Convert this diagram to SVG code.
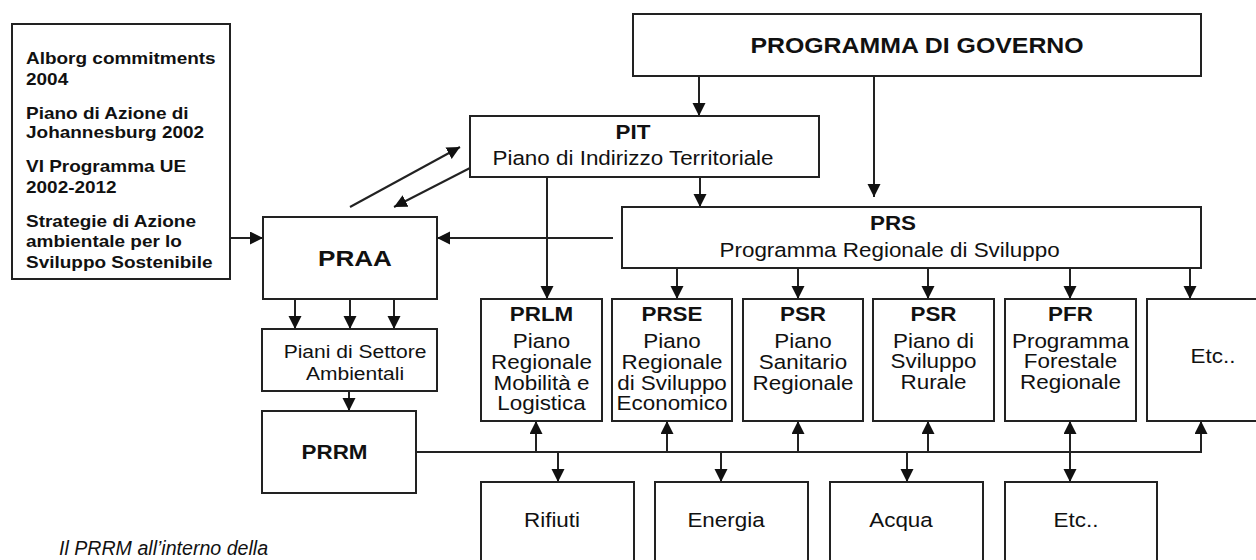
<svg xmlns="http://www.w3.org/2000/svg" width="1256" height="560" viewBox="0 0 1256 560">
<style>
rect.box{fill:#fff;stroke:#222;stroke-width:2}
text{font-family:"Liberation Sans",Arial,sans-serif;fill:#111}
.b{font-weight:bold}
.c{text-anchor:middle}
.ln{fill:none;stroke:#222;stroke-width:2}
</style>
<defs>
<marker id="ah" markerUnits="userSpaceOnUse" markerWidth="14" markerHeight="14" refX="13" refY="6.5" orient="auto">
<path d="M0,0 L13,6.5 L0,13 z" fill="#111"/>
</marker>
</defs>
<rect width="1256" height="560" fill="#fff"/>

<g id="connectors">
<line class="ln" x1="699" y1="76" x2="699" y2="116" marker-end="url(#ah)"/>
<line class="ln" x1="874" y1="76" x2="874" y2="197" marker-end="url(#ah)"/>
<line class="ln" x1="700" y1="177" x2="700" y2="207" marker-end="url(#ah)"/>
<line class="ln" x1="547" y1="177" x2="547" y2="299" marker-end="url(#ah)"/>
<line class="ln" x1="613" y1="238" x2="437" y2="238" marker-end="url(#ah)"/>
<line class="ln" x1="230" y1="238" x2="263" y2="238" marker-end="url(#ah)"/>
<line class="ln" x1="350" y1="207" x2="460" y2="147" marker-end="url(#ah)"/>
<line class="ln" x1="470" y1="168" x2="394" y2="207" marker-end="url(#ah)"/>
<line class="ln" x1="677" y1="268" x2="677" y2="299" marker-end="url(#ah)"/>
<line class="ln" x1="798" y1="268" x2="798" y2="299" marker-end="url(#ah)"/>
<line class="ln" x1="928" y1="268" x2="928" y2="299" marker-end="url(#ah)"/>
<line class="ln" x1="1070" y1="268" x2="1070" y2="299" marker-end="url(#ah)"/>
<line class="ln" x1="1190" y1="268" x2="1190" y2="299" marker-end="url(#ah)"/>
<line class="ln" x1="295" y1="299" x2="295" y2="329" marker-end="url(#ah)"/>
<line class="ln" x1="350" y1="299" x2="350" y2="329" marker-end="url(#ah)"/>
<line class="ln" x1="394" y1="299" x2="394" y2="329" marker-end="url(#ah)"/>
<line class="ln" x1="349" y1="391" x2="349" y2="411" marker-end="url(#ah)"/>
<polyline class="ln" points="416,452 1201,452 1201,421" marker-end="url(#ah)"/>
<line class="ln" x1="536" y1="452" x2="536" y2="421" marker-end="url(#ah)"/>
<line class="ln" x1="667" y1="452" x2="667" y2="421" marker-end="url(#ah)"/>
<line class="ln" x1="798" y1="452" x2="798" y2="421" marker-end="url(#ah)"/>
<line class="ln" x1="928" y1="452" x2="928" y2="421" marker-end="url(#ah)"/>
<line class="ln" x1="1070" y1="452" x2="1070" y2="421" marker-end="url(#ah)"/>
<line class="ln" x1="558" y1="452" x2="558" y2="482" marker-end="url(#ah)"/>
<line class="ln" x1="721" y1="452" x2="721" y2="482" marker-end="url(#ah)"/>
<line class="ln" x1="907" y1="452" x2="907" y2="482" marker-end="url(#ah)"/>
<line class="ln" x1="1070" y1="452" x2="1070" y2="482" marker-end="url(#ah)"/>
</g>

<g id="riferimenti">
<rect class="box" x="12" y="24" width="218" height="255"/>
<text class="b" font-size="16.5" transform="matrix(1.15 0 0 1 26 0)">
<tspan x="0" y="64">Alborg commitments</tspan>
<tspan x="0" y="85.5">2004</tspan>
<tspan x="0" y="119">Piano di Azione di</tspan>
<tspan x="0" y="138.5">Johannesburg 2002</tspan>
<tspan x="0" y="172">VI Programma UE</tspan>
<tspan x="0" y="193">2002-2012</tspan>
<tspan x="0" y="227">Strategie di Azione</tspan>
<tspan x="0" y="247.5">ambientale per lo</tspan>
<tspan x="0" y="268">Sviluppo Sostenibile</tspan>
</text>
</g>

<g id="governo">
<rect class="box" x="633" y="14" width="568" height="62"/>
<text class="b c" font-size="22" transform="matrix(1.13 0 0 1 917 53)">PROGRAMMA DI GOVERNO</text>
</g>

<g id="pit">
<rect class="box" x="470" y="116" width="349" height="61"/>
<text class="c" font-size="19.5" transform="matrix(1.15 0 0 1 633 0)"><tspan class="b" x="0" y="139">PIT</tspan><tspan x="0" y="165">Piano di Indirizzo Territoriale</tspan></text>
</g>

<g id="prs">
<rect class="box" x="622" y="207" width="579" height="61"/>
<text class="c" font-size="19.5" transform="matrix(1.15 0 0 1 893 0)"><tspan class="b" x="0" y="230">PRS</tspan><tspan x="-3" y="257">Programma Regionale di Sviluppo</tspan></text>
</g>

<g id="praa">
<rect class="box" x="263" y="217" width="174" height="82"/>
<text class="b c" font-size="22.5" transform="matrix(1.16 0 0 1 355 266)">PRAA</text>
</g>

<g id="piani-settore">
<rect class="box" x="262" y="329" width="175" height="62"/>
<text class="c" font-size="18.3" transform="matrix(1.15 0 0 1 355 0)"><tspan x="0" y="358">Piani di Settore</tspan><tspan x="0" y="380">Ambientali</tspan></text>
</g>

<g id="prrm">
<rect class="box" x="262" y="411" width="154" height="82"/>
<text class="b c" font-size="19.5" transform="matrix(1.15 0 0 1 334.5 459)">PRRM</text>
</g>

<g id="prlm">
<rect class="box" x="481" y="299" width="121" height="122"/>
<text class="c" font-size="19.5" transform="matrix(1.15 0 0 1 541.5 0)"><tspan class="b" x="0" y="321">PRLM</tspan><tspan x="0" y="348">Piano</tspan><tspan x="0" y="369">Regionale</tspan><tspan x="0" y="390">Mobilità e</tspan><tspan x="0" y="410.5">Logistica</tspan></text>
</g>

<g id="prse">
<rect class="box" x="612" y="299" width="120" height="122"/>
<text class="c" font-size="19.5" transform="matrix(1.15 0 0 1 672 0)"><tspan class="b" x="0" y="321">PRSE</tspan><tspan x="0" y="348">Piano</tspan><tspan x="0" y="369">Regionale</tspan><tspan x="0" y="390">di Sviluppo</tspan><tspan x="0" y="410.5">Economico</tspan></text>
</g>

<g id="psr-sanitario">
<rect class="box" x="743" y="299" width="120" height="122"/>
<text class="c" font-size="19.5" transform="matrix(1.15 0 0 1 803 0)"><tspan class="b" x="0" y="321">PSR</tspan><tspan x="0" y="348">Piano</tspan><tspan x="0" y="369">Sanitario</tspan><tspan x="0" y="390">Regionale</tspan></text>
</g>

<g id="psr-rurale">
<rect class="box" x="873" y="299" width="121" height="122"/>
<text class="c" font-size="19.5" transform="matrix(1.15 0 0 1 933.5 0)"><tspan class="b" x="0" y="321">PSR</tspan><tspan x="0" y="348">Piano di</tspan><tspan x="0" y="368.5">Sviluppo</tspan><tspan x="0" y="389">Rurale</tspan></text>
</g>

<g id="pfr">
<rect class="box" x="1005" y="299" width="131" height="122"/>
<text class="c" font-size="19.5" transform="matrix(1.15 0 0 1 1070.5 0)"><tspan class="b" x="0" y="321">PFR</tspan><tspan x="0" y="348">Programma</tspan><tspan x="0" y="368.5">Forestale</tspan><tspan x="0" y="389">Regionale</tspan></text>
</g>

<g id="etc-piani">
<rect class="box" x="1147" y="299" width="120" height="122"/>
<text class="c" font-size="19.5" transform="matrix(1.15 0 0 1 1213 363)">Etc..</text>
</g>

<g id="rifiuti">
<rect class="box" x="481" y="482" width="153" height="90"/>
<text class="c" font-size="19.5" transform="matrix(1.15 0 0 1 552 527)">Rifiuti</text>
</g>

<g id="energia">
<rect class="box" x="655" y="482" width="153" height="90"/>
<text class="c" font-size="19.5" transform="matrix(1.15 0 0 1 726 527)">Energia</text>
</g>

<g id="acqua">
<rect class="box" x="830" y="482" width="153" height="90"/>
<text class="c" font-size="19.5" transform="matrix(1.15 0 0 1 901 527)">Acqua</text>
</g>

<g id="etc-settori">
<rect class="box" x="1005" y="482" width="152" height="90"/>
<text class="c" font-size="19.5" transform="matrix(1.15 0 0 1 1076 527)">Etc..</text>
</g>

<g id="didascalia">
<text font-size="19.6" font-style="italic" x="59" y="555">Il PRRM all’interno della</text>
</g>
</svg>
